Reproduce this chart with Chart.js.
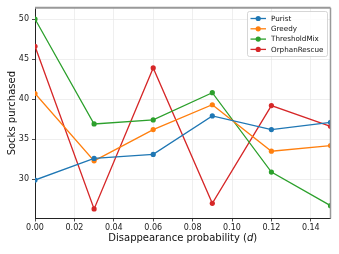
<!DOCTYPE html>
<html>
<head>
<meta charset="utf-8">
<script src="https://cdn.jsdelivr.net/npm/chart.js@4"></script>
<style>
  html, body { margin: 0; padding: 0; background: #fff; }
  #wrap { width: 339px; height: 254px; }
</style>
</head>
<body>
<div id="wrap"><canvas id="chart" width="339" height="254"></canvas></div>
<script>
const probs = [0, 0.03, 0.06, 0.09, 0.12, 0.15];
const purist = [29.9, 32.6, 33.1, 37.9, 36.2, 37.1];
const greedy = [40.7, 32.3, 36.2, 39.3, 33.5, 34.2];
const thresholdMix = [50.0, 36.9, 37.4, 40.8, 30.9, 26.7];
const orphanRescue = [46.6, 26.3, 43.9, 27.0, 39.2, 36.6];
const seriesNames = ['Purist', 'Greedy', 'ThresholdMix', 'OrphanRescue'];
const xTicks = [0, 0.02, 0.04, 0.06, 0.08, 0.10, 0.12, 0.14];
const yTicks = [30, 35, 40, 45, 50];

const colors = ['#1f77b4', '#ff7f0e', '#2ca02c', '#d62728'];
const FONT = 'DejaVu Sans';

function pts(vals) {
  return vals.map((v, i) => ({ x: probs[i], y: v }));
}

const datasets = [purist, greedy, thresholdMix, orphanRescue].map((vals, i) => ({
  label: seriesNames[i],
  data: pts(vals),
  borderColor: colors[i],
  backgroundColor: colors[i],
  borderWidth: 1.3,
  pointRadius: 2.6,
  pointBorderWidth: 0,
  tension: 0,
  clip: 0,
}));

// spines, axis titles and an inset legend, matplotlib style
const decor = {
  id: 'decor',
  afterDraw(chart) {
    const { ctx, chartArea: a } = chart;
    ctx.save();
    ctx.strokeStyle = '#999';
    ctx.lineWidth = 2;
    ctx.beginPath();
    ctx.moveTo(a.left, a.top);
    ctx.lineTo(a.right, a.top);
    ctx.stroke();
    ctx.lineWidth = 1.5;
    ctx.beginPath();
    ctx.moveTo(a.right, a.top);
    ctx.lineTo(a.right, a.bottom);
    ctx.stroke();

    // y title
    ctx.fillStyle = '#111';
    ctx.font = `10px "${FONT}"`;
    ctx.textAlign = 'center';
    ctx.textBaseline = 'middle';
    ctx.save();
    ctx.translate(12, (a.top + a.bottom) / 2);
    ctx.rotate(-Math.PI / 2);
    ctx.fillText('Socks purchased', 0, 0);
    ctx.restore();

    // x title with italic d
    const p1 = 'Disappearance probability (';
    const p2 = 'd';
    const p3 = ')';
    ctx.font = `10px "${FONT}"`;
    const w1 = ctx.measureText(p1).width;
    const w3 = ctx.measureText(p3).width;
    ctx.font = `italic 10px "${FONT}"`;
    const w2 = ctx.measureText(p2).width;
    let x = (a.left + a.right) / 2 - (w1 + w2 + w3) / 2;
    const y = 238;
    ctx.textAlign = 'left';
    ctx.font = `10px "${FONT}"`;
    ctx.fillText(p1, x, y);
    x += w1;
    ctx.font = `italic 10px "${FONT}"`;
    ctx.fillText(p2, x, y);
    x += w2;
    ctx.font = `10px "${FONT}"`;
    ctx.fillText(p3, x, y);

    // legend
    const bx = 247.5, by = 11.5, bw = 80, bh = 45;
    ctx.fillStyle = 'rgba(255,255,255,0.85)';
    ctx.strokeStyle = '#ccc';
    ctx.lineWidth = 0.8;
    ctx.beginPath();
    ctx.roundRect(bx, by, bw, bh, 2);
    ctx.fill();
    ctx.stroke();
    ctx.font = `7.2px "${FONT}"`;
    ctx.textBaseline = 'middle';
    chart.data.datasets.forEach((ds, i) => {
      const ry = 18.5 + i * 10.3;
      ctx.strokeStyle = ds.borderColor;
      ctx.lineWidth = 1.3;
      ctx.beginPath();
      ctx.moveTo(250.5, ry);
      ctx.lineTo(266, ry);
      ctx.stroke();
      ctx.fillStyle = ds.borderColor;
      ctx.beginPath();
      ctx.arc(258.2, ry, 2.6, 0, Math.PI * 2);
      ctx.fill();
      ctx.fillStyle = '#111';
      ctx.fillText(ds.label, 271, ry + 0.5);
    });
    ctx.restore();
  },
};

new Chart(document.getElementById('chart'), {
  type: 'line',
  data: { datasets },
  plugins: [decor],
  options: {
    responsive: false,
    animation: false,
    devicePixelRatio: 1,
    layout: { padding: { left: 0, top: 7, right: 8.5, bottom: 0 } },
    plugins: { legend: { display: false }, tooltip: { enabled: false } },
    scales: {
      x: {
        type: 'linear',
        min: 0,
        max: 0.15,
        afterBuildTicks: (s) => { s.ticks = xTicks.map((v) => ({ value: v })); },
        afterFit: (s) => { s.height = 35.5; },
        grid: { color: '#e8e8e8', lineWidth: 0.7, tickColor: '#222', tickLength: 3, tickWidth: 0.8 },
        border: { color: '#222', width: 1 },
        ticks: {
          color: '#222',
          font: { family: FONT, size: 8 },
          padding: 1.5,
          maxRotation: 0,
          callback: (v) => Number(v).toFixed(2),
        },
      },
      y: {
        min: 25.1,
        max: 51.4,
        afterBuildTicks: (s) => { s.ticks = yTicks.map((v) => ({ value: v })); },
        afterFit: (s) => { s.width = 35; },
        grid: { color: '#e8e8e8', lineWidth: 0.7, tickColor: '#222', tickLength: 3, tickWidth: 0.8 },
        border: { color: '#222', width: 1 },
        ticks: {
          color: '#222',
          font: { family: FONT, size: 8 },
          padding: 3,
          callback: (v) => String(v),
        },
      },
    },
  },
});
</script>
</body>
</html>
